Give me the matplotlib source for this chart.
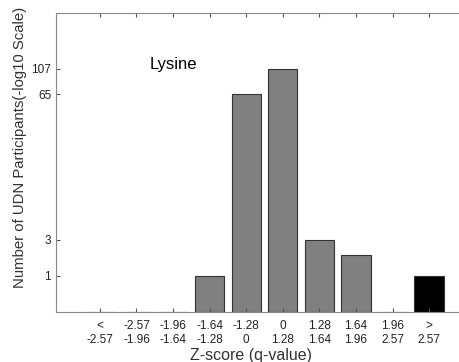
import matplotlib.pyplot as plt
import numpy as np

plt.rcParams['font.family'] = ['Liberation Sans', 'DejaVu Sans']

labels = ['<\n-2.57', '-2.57\n-1.96', '-1.96\n-1.64', '-1.64\n-1.28', '-1.28\n0',
          '0\n1.28', '1.28\n1.64', '1.64\n1.96', '1.96\n2.57', '>\n2.57']
counts = [0, 0, 0, 1, 65, 107, 3, 2, 0, 1]
colors = ['#808080'] * 9 + ['black']
ytick_counts = [1, 3, 65, 107]

x = np.arange(1, len(counts) + 1)
heights = np.log10(np.array(counts) + 1)

fig = plt.figure(figsize=(4.6, 3.62), dpi=100)
ax = fig.add_axes([56 / 460, 50 / 362, 417 / 460, 299 / 362])

ax.bar(x, heights, width=0.8, color=colors, edgecolor='#333333', linewidth=0.8)

ax.set_xlim(-0.2, 11.2)
ax.set_ylim(0, 2.5)
ax.set_xticks(x)
ax.set_xticklabels(labels, fontsize=8.5, color='#222222', linespacing=1.2)
ax.set_yticks(np.log10(np.array(ytick_counts) + 1))
ax.set_yticklabels([str(v) for v in ytick_counts], fontsize=8.5, color='#222222')
ax.tick_params(direction='in', top=True, right=False, length=3, color='#555555')
ax.tick_params(axis='x', pad=6)
for s in ax.spines.values():
    s.set_color('#888888')
ax.spines['right'].set_visible(False)

ax.text(2.37, 2.07, 'Lysine', fontsize=12, va='center', ha='left')
ax.set_xlabel('Z-score (q-value)', fontsize=11.5, color='#333333')
ax.xaxis.set_label_coords(0.468, -0.12)
ax.set_ylabel('Number of UDN Participants(-log10 Scale)', fontsize=10.7, color='#333333')
ax.yaxis.set_label_coords(-0.07, 0.55)

fig.savefig('out.png', dpi=100)
